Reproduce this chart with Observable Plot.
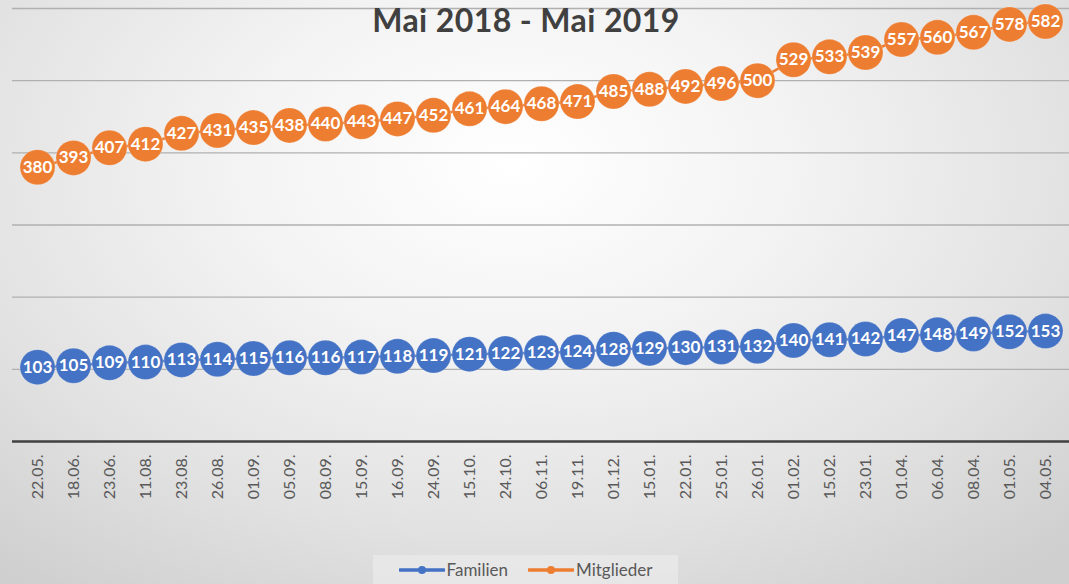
<!DOCTYPE html>
<html><head><meta charset="utf-8">
<script src="https://cdn.jsdelivr.net/npm/d3@7"></script>
<script src="https://cdn.jsdelivr.net/npm/@observablehq/plot@0.6"></script>
<style>
body{margin:0;}
#wrap{position:relative;width:1069px;height:584px;overflow:hidden;
 background:radial-gradient(ellipse 75% 90% at 48% 28%, #ffffff 0%, #f3f3f3 35%, #e2e2e2 70%, #cfcfcf 100%);
 font-family:Lato,"Open Sans",sans-serif;}
#chart{position:absolute;top:0;left:0;}
#title{position:absolute;top:0;left:0;width:1052px;text-align:center;font-weight:bold;font-size:32px;line-height:normal;color:#404040;letter-spacing:0.4px;}
#legend{position:absolute;left:373px;top:555px;width:305px;height:29px;background:rgba(235,235,235,0.7);
 display:flex;align-items:center;justify-content:center;gap:20px;font-size:17px;color:#595959;}
#legend .item{display:flex;align-items:center;gap:2px;}
</style></head><body>
<div id="wrap"><div id="chart"></div><div id="title">Mai 2018 - Mai 2019</div><div id="legend"></div></div>
<script>
const dates = ["22.05.","18.06.","23.06.","11.08.","23.08.","26.08.","01.09.","05.09.","08.09.","15.09.","16.09.","24.09.","15.10.","24.10.","06.11.","19.11.","01.12.","15.01.","22.01.","25.01.","26.01.","01.02.","15.02.","23.01.","01.04.","06.04.","08.04.","01.05.","04.05."];
const familien = [103,105,109,110,113,114,115,116,116,117,118,119,121,122,123,124,128,129,130,131,132,140,141,142,147,148,149,152,153];
const mitglieder = [380,393,407,412,427,431,435,438,440,443,447,452,461,464,468,471,485,488,492,496,500,529,533,539,557,560,567,578,582];
const seriesNames = ["Familien","Mitglieder"];
const seriesColors = ["#4472C4","#ED7D31"];
const gridTicks = [100,200,300,400,500,600];

const data = dates.flatMap((d,i)=>[
  {date:d,value:familien[i],series:seriesNames[0]},
  {date:d,value:mitglieder[i],series:seriesNames[1]}
]);

const chart = Plot.plot({
  width:1069, height:520,
  marginTop:8, marginBottom:79, marginLeft:12, marginRight:0,
  x:{type:"point", domain:dates, padding:0.5},
  y:{domain:[0,600], axis:null},
  color:{domain:seriesNames, range:seriesColors},
  style:{background:"transparent", overflow:"visible", fontFamily:'Lato,"Open Sans",sans-serif'},
  marks:[
    Plot.gridY(gridTicks,{stroke:"#b0b0b0",strokeOpacity:1,strokeWidth:1.3}),
    Plot.ruleY([0],{stroke:"#404040",strokeWidth:2.5}),
    Plot.axisX({tickSize:0, tickRotate:-90, tickPadding:13, fontSize:16, fill:"#595959", label:null}),
    Plot.lineY(data,{x:"date",y:"value",z:"series",stroke:"series",strokeWidth:2.5}),
    Plot.dot(data,{x:"date",y:"value",fill:"series",r:17.5,stroke:"white",strokeOpacity:0.25,strokeWidth:0.8}),
    Plot.text(data,{x:"date",y:"value",text:d=>String(d.value),fill:"white",fontWeight:"bold",fontSize:17})
  ]
});
document.getElementById("chart").appendChild(chart);

const legend = document.getElementById("legend");
seriesNames.forEach((name,i)=>{
  const item = document.createElement("span");
  item.className="item";
  item.innerHTML = `<svg width="46" height="10"><line x1="1" y1="5" x2="45" y2="5" stroke="${seriesColors[i]}" stroke-width="3.5" stroke-linecap="round"/><circle cx="23" cy="5" r="4" fill="${seriesColors[i]}"/></svg><span>${name}</span>`;
  legend.appendChild(item);
});
</script>
</body></html>
